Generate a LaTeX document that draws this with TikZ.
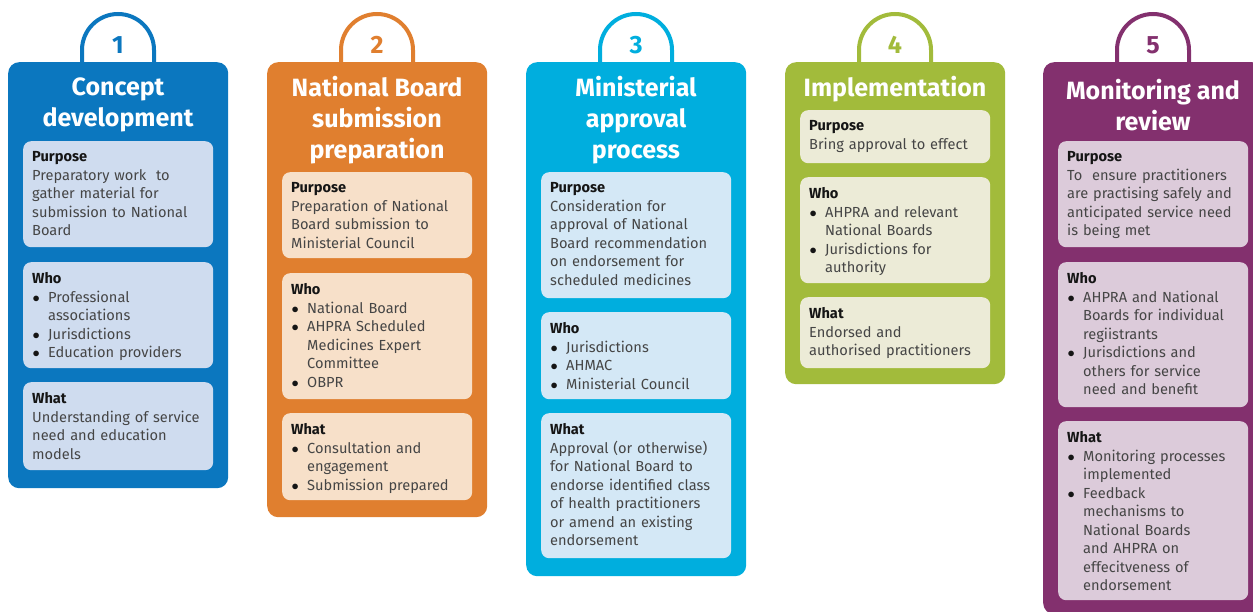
\documentclass[tikz,border=0pt]{standalone}
\usepackage{fontspec}
\setmainfont{Fira Sans}
\definecolor{cA}{HTML}{0B77BF}\definecolor{lA}{HTML}{CFDCEF}
\definecolor{cB}{HTML}{E07F2F}\definecolor{lB}{HTML}{F7E0C9}
\definecolor{cC}{HTML}{00AEDE}\definecolor{lC}{HTML}{D4E8F6}
\definecolor{cD}{HTML}{A2BB3B}\definecolor{lD}{HTML}{ECEBD7}
\definecolor{cE}{HTML}{83306E}\definecolor{lE}{HTML}{DCCBDA}
\definecolor{bodyc}{HTML}{454545}
\definecolor{headc}{HTML}{151515}
\newcommand{\bitem}[1]{\par\hangindent=16pt\hangafter=1\noindent\makebox[16pt][l]{\hspace{0.5pt}\color{headc}$\bullet$}#1\par}
\newcommand{\hd}[1]{{\bfseries\color{headc}#1}\par}
\tikzset{
  outerbox/.style={rounded corners=11pt, fill=#1, anchor=north west, minimum width=220pt, inner sep=0pt},
  inbox/.style={rounded corners=8pt, fill=#1, anchor=north west, minimum width=190pt, inner sep=0pt},
  body/.style={anchor=north west, text width=186pt, align=left, inner sep=0pt, text=bodyc,
     font=\fontsize{14.6}{18.5}\selectfont},
  ttl/.style={text=white, align=center, font=\fontsize{25}{31}\selectfont\bfseries, inner sep=0pt},
  num/.style={text=#1, font=\fontsize{25}{30}\selectfont\bfseries, inner sep=0pt},
  tabarc/.style={line width=4pt, draw=#1, fill=white},
}
\begin{document}
\begin{tikzpicture}[x=1pt,y=-1pt]
\useasboundingbox (0,0) rectangle (1253,612);
\clip (0,0) rectangle (1253,612);
% ---------- tabs ----------
\foreach \cx/\cc in {118/cA,377/cB,636/cC,895/cD,1153/cE}{
  \draw[tabarc=\cc] (\cx-36,64) -- (\cx-36,50) arc[start angle=180,end angle=0,radius=36pt] -- (\cx+36,64);
}
% ---------- column 1 ----------
\node[outerbox=cA, minimum height=426pt] (o1) at (8,62) {};
\node[num=cA] (n1) at (118,45) {1};
\node[ttl] (t1) at (118,105) {Concept\\development};
\node[inbox=lA, minimum height=106pt] (p1) at (23,141) {};
\node[body] (p1t) at ([shift={(9,10.5)}]p1.north west) {\hd{Purpose}Preparatory work\ \ to\\gather material for\\submission to National\\Board};
\node[inbox=lA, minimum height=106pt] (w1) at (23,262) {};
\node[body] (w1t) at ([shift={(9,10.5)}]w1.north west) {\hd{Who}\bitem{Professional\newline associations}\bitem{Jurisdictions}\bitem{Education providers}};
\node[inbox=lA, minimum height=88pt] (h1) at (23,382) {};
\node[body] (h1t) at ([shift={(9,10.5)}]h1.north west) {\hd{What}Understanding of service\\need and education\\models};
% ---------- column 2 ----------
\node[outerbox=cB, minimum height=455pt] (o2) at (267,62) {};
\node[num=cB] (n2) at (377,45) {2};
\node[ttl] (t2) at (377,120.5) {National Board\\submission\\preparation};
\node[inbox=lB, minimum height=86pt] (p2) at (282,172) {};
\node[body] (p2t) at ([shift={(9,10.5)}]p2.north west) {\hd{Purpose}Preparation of National\\Board submission to\\Ministerial Council};
\node[inbox=lB, minimum height=126pt] (w2) at (282,273) {};
\node[body] (w2t) at ([shift={(9,10.5)}]w2.north west) {\hd{Who}\bitem{National Board}\bitem{AHPRA Scheduled\newline Medicines Expert\newline Committee}\bitem{OBPR}};
\node[inbox=lB, minimum height=87pt] (h2) at (282,413) {};
\node[body] (h2t) at ([shift={(9,10.5)}]h2.north west) {\hd{What}\bitem{Consultation and\newline engagement}\bitem{Submission prepared}};
% ---------- column 3 ----------
\node[outerbox=cC, minimum height=514pt] (o3) at (526,62) {};
\node[num=cC] (n3) at (636,45) {3};
\node[ttl] (t3) at (636,120.5) {Ministerial\\approval\\process};
\node[inbox=lC, minimum height=126pt] (p3) at (541,172) {};
\node[body] (p3t) at ([shift={(9,10.5)}]p3.north west) {\hd{Purpose}Consideration for\\approval of National\\Board recommendation\\on endorsement for\\scheduled medicines};
\node[inbox=lC, minimum height=87pt] (w3) at (541,312) {};
\node[body] (w3t) at ([shift={(9,10.5)}]w3.north west) {\hd{Who}\bitem{Jurisdictions}\bitem{AHMAC}\bitem{Ministerial Council}};
\node[inbox=lC, minimum height=145pt] (h3) at (541,413) {};
\node[body] (h3t) at ([shift={(9,10.5)}]h3.north west) {\hd{What}Approval (or otherwise)\\for National Board to\\endorse identified class\\of health practitioners\\or amend an existing\\endorsement};
% ---------- column 4 ----------
\node[outerbox=cD, minimum height=322pt] (o4) at (785,62) {};
\node[num=cD] (n4) at (895,45) {4};
\node[ttl] (t4) at (895,89.5) {Implementation};
\node[inbox=lD, minimum height=53pt] (p4) at (800,110) {};
\node[body] (p4t) at ([shift={(9,10.5)}]p4.north west) {\hd{Purpose}Bring approval to effect};
\node[inbox=lD, minimum height=106pt] (w4) at (800,177) {};
\node[body] (w4t) at ([shift={(9,10.5)}]w4.north west) {\hd{Who}\bitem{AHPRA and relevant\newline National Boards}\bitem{Jurisdictions for\newline authority}};
\node[inbox=lD, minimum height=71pt] (h4) at (800,297) {};
\node[body] (h4t) at ([shift={(9,10.5)}]h4.north west) {\hd{What}Endorsed and\\authorised practitioners};
% ---------- column 5 ----------
\node[outerbox=cE, minimum height=552pt] (o5) at (1043,62) {};
\node[num=cE] (n5) at (1153,45) {5};
\node[ttl] (t5) at (1153,105) {Monitoring and\\review};
\node[inbox=lE, minimum height=106pt] (p5) at (1058,141) {};
\node[body] (p5t) at ([shift={(9,10.5)}]p5.north west) {\hd{Purpose}To\ \ ensure practitioners\\are practising safely and\\anticipated service need\\is being met};
\node[inbox=lE, minimum height=145pt] (w5) at (1058,262) {};
\node[body] (w5t) at ([shift={(9,10.5)}]w5.north west) {\hd{Who}\bitem{AHPRA and National\newline Boards for individual\newline regiistrants}\bitem{Jurisdictions and\newline others for service\newline need and benefit}};
\node[inbox=lE, minimum height=179pt] (h5) at (1058,421) {};
\node[body] (h5t) at ([shift={(9,10.5)}]h5.north west) {\hd{What}\bitem{Monitoring processes\newline implemented}\bitem{Feedback\newline mechanisms to\newline National Boards\newline and AHPRA on\newline effecitveness of\newline endorsement}};
\end{tikzpicture}
\end{document}
